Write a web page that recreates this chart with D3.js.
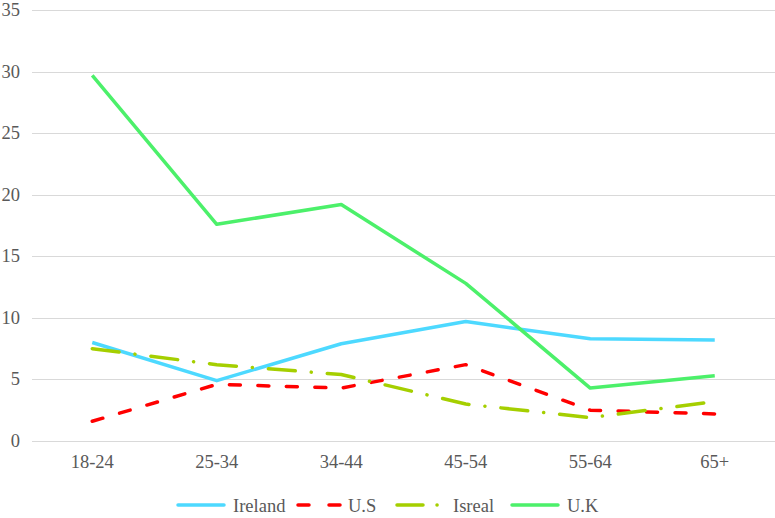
<!DOCTYPE html>
<html>
<head>
<meta charset="utf-8">
<script src="https://cdn.jsdelivr.net/npm/d3@7"></script>
<style>
  body { margin: 0; background: #fff; }
</style>
</head>
<body>
<svg id="chart" width="775" height="518"></svg>
<script>
// Data
const categories = ['18-24', '25-34', '34-44', '45-54', '55-64', '65+'];
const ireland = [8.0, 4.9, 7.9, 9.7, 8.3, 8.2];
const us = [1.6, 4.6, 4.3, 6.2, 2.5, 2.2];
const isreal = [7.5, 6.2, 5.4, 3.0, 1.9, 3.2];
const uk = [29.7, 17.6, 19.2, 12.8, 4.3, 5.3];
const yTicks = [0, 5, 10, 15, 20, 25, 30, 35];

const FONT = '"Liberation Serif"';
const TEXT_COLOR = '#595959';

const series = [
    { name: 'Ireland', values: ireland, color: '#4DD9FF', dash: null },
    { name: 'U.S', values: us, color: '#FF0000', dash: '11 17.5' },
    { name: 'Isreal', values: isreal, color: '#A5CF00', dash: '27 16 0.1 16' },
    { name: 'U.K', values: uk, color: '#4CF06A', dash: null }
];

const svg = d3.select('#chart');

const x = d3.scaleBand()
    .domain(categories)
    .range([30, 777]);

const y = d3.scaleLinear()
    .domain([0, 35])
    .range([441, 10]);

// Gridlines
svg.append('g')
    .selectAll('line')
    .data(yTicks)
    .join('line')
    .attr('x1', 32)
    .attr('x2', 775)
    .attr('y1', d => Math.round(y(d)) + 0.5)
    .attr('y2', d => Math.round(y(d)) + 0.5)
    .style('stroke', '#D9D9D9')
    .style('stroke-width', 1);

// Y labels
svg.append('g')
    .selectAll('text')
    .data(yTicks)
    .join('text')
    .attr('x', 20)
    .attr('y', d => y(d) + 6)
    .attr('text-anchor', 'end')
    .style('font-family', FONT)
    .style('font-size', '18.5px')
    .style('fill', TEXT_COLOR)
    .text(d => d);

// X labels
svg.append('g')
    .selectAll('text')
    .data(categories)
    .join('text')
    .attr('x', d => x(d) + x.bandwidth() / 2)
    .attr('y', 468)
    .attr('text-anchor', 'middle')
    .style('font-family', FONT)
    .style('font-size', '18.5px')
    .style('fill', TEXT_COLOR)
    .text(d => d);

// Lines
const line = d3.line()
    .x((d, i) => x(categories[i]) + x.bandwidth() / 2)
    .y(d => y(d));

svg.append('g')
    .selectAll('path')
    .data(series)
    .join('path')
    .attr('d', d => line(d.values))
    .style('fill', 'none')
    .style('stroke', d => d.color)
    .style('stroke-width', 3.5)
    .style('stroke-linejoin', 'round')
    .style('stroke-linecap', d => d.dash ? 'round' : 'butt')
    .style('stroke-dasharray', d => d.dash);

// Legend
const legendX = [178, 298, 397, 512];
const legend = svg.append('g')
    .selectAll('g')
    .data(series)
    .join('g')
    .attr('transform', (d, i) => `translate(${legendX[i]},505)`);

legend.append('line')
    .attr('x1', 0)
    .attr('x2', 46)
    .style('stroke', d => d.color)
    .style('stroke-width', 3.5)
    .style('stroke-linecap', 'round')
    .style('stroke-dasharray', d => d.name === 'U.S' ? '11 20' : (d.name === 'Isreal' ? '26 14 0.1 14' : null));

legend.append('text')
    .attr('x', (d, i) => i === 1 ? 50 : (i === 2 ? 56 : 55))
    .attr('y', 6.5)
    .style('font-family', FONT)
    .style('font-size', '18.5px')
    .style('fill', TEXT_COLOR)
    .text(d => d.name);
</script>
</body>
</html>
